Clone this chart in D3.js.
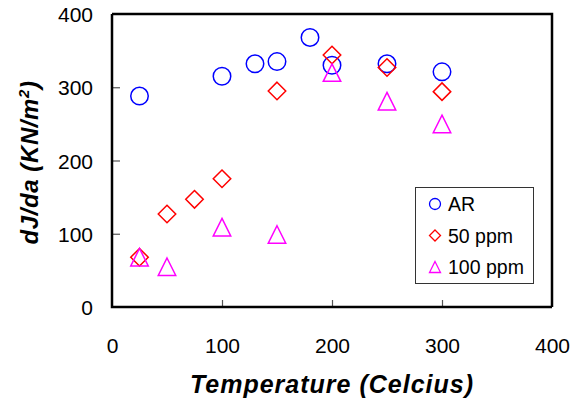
<!DOCTYPE html>
<html>
<head>
<meta charset="utf-8">
<script src="https://cdn.jsdelivr.net/npm/d3@7"></script>
<style>
  body { margin: 0; background: #fff; }
  text { font-family: Arial, "Liberation Sans", sans-serif; }
</style>
</head>
<body>
<div id="wrapper"></div>
<script>
// data
const seriesNames = ["AR", "50 ppm", "100 ppm"];
const seriesColors = ["#0000ff", "#ff0000", "#ff00ff"];
const seriesShapes = ["circle", "diamond", "triangle"];

const arTemp = [25, 100, 130, 150, 180, 200, 250, 300];
const arDJ = [288, 315, 332, 335, 368, 330, 332, 321];

const ppm50Temp = [25, 50, 75, 100, 150, 200, 250, 300];
const ppm50DJ = [68, 127, 147, 175, 295, 344, 327, 294];

const ppm100Temp = [25, 50, 100, 150, 200, 250, 300];
const ppm100DJ = [68, 55, 109, 99, 320, 281, 250];

const xTicks = [0, 100, 200, 300, 400];
const yTicks = [0, 100, 200, 300, 400];

function drawChart() {
    const series = [
        { temp: arTemp, dj: arDJ },
        { temp: ppm50Temp, dj: ppm50DJ },
        { temp: ppm100Temp, dj: ppm100DJ },
    ].map((s, i) => ({
        name: seriesNames[i],
        color: seriesColors[i],
        shape: seriesShapes[i],
        points: s.temp.map((t, j) => ({ x: t, y: s.dj[j] })),
    }));

    const xAccessor = d => d.x;
    const yAccessor = d => d.y;

    let dimensions = {
        width: 585,
        height: 405,
        margin: { top: 14, right: 33, bottom: 98, left: 112 },
    };
    dimensions.boundedWidth = dimensions.width - dimensions.margin.left - dimensions.margin.right;
    dimensions.boundedHeight = dimensions.height - dimensions.margin.top - dimensions.margin.bottom;

    const wrapper = d3.select("#wrapper")
        .append("svg")
        .attr("width", dimensions.width)
        .attr("height", dimensions.height);

    const bounds = wrapper.append("g")
        .attr("transform", `translate(${dimensions.margin.left},${dimensions.margin.top})`);

    const xScale = d3.scaleLinear()
        .domain([0, 400])
        .range([0, dimensions.boundedWidth]);

    const yScale = d3.scaleLinear()
        .domain([0, 400])
        .range([dimensions.boundedHeight, 0]);

    // marker outlines, centred on 0,0
    const markerPath = (shape, s) => {
        const h = s / 2;
        if (shape === "diamond") return `M0,${-h}L${h},0L0,${h}L${-h},0Z`;
        if (shape === "triangle") return `M0,${-h}L${h},${h}L${-h},${h}Z`;
        return `M${h},0A${h},${h} 0 1,1 ${-h},0A${h},${h} 0 1,1 ${h},0Z`;
    };

    // plot frame (top + right)
    bounds.append("path")
        .attr("d", `M0,0H${dimensions.boundedWidth}V${dimensions.boundedHeight}`)
        .attr("fill", "none")
        .attr("stroke", "#000")
        .attr("stroke-width", 2.5);

    // axes
    const xAxisGenerator = d3.axisBottom(xScale)
        .tickValues(xTicks)
        .tickSize(-7)
        .tickPadding(0)
        .tickFormat(d3.format("d"));

    const xAxis = bounds.append("g")
        .attr("transform", `translate(0,${dimensions.boundedHeight})`)
        .call(xAxisGenerator);

    xAxis.select(".domain").remove();
    xAxis.selectAll(".tick line").attr("stroke", "#555").attr("stroke-width", 1.2);
    xAxis.selectAll(".tick text")
        .attr("y", 46)
        .attr("dy", 0)
        .attr("fill", "#000")
        .style("font-size", "21px");
    xAxis.selectAll(".tick")
        .filter(d => d === 0 || d === 400)
        .select("line").remove();

    const yAxisGenerator = d3.axisLeft(yScale)
        .tickValues(yTicks)
        .tickSize(-8)
        .tickFormat(d3.format("d"));

    const yAxis = bounds.append("g")
        .call(yAxisGenerator);

    yAxis.select(".domain").remove();
    yAxis.selectAll(".tick line").attr("stroke", "#555").attr("stroke-width", 1.2);
    yAxis.selectAll(".tick text")
        .attr("x", -19)
        .attr("dy", "0.36em")
        .attr("fill", "#000")
        .style("font-size", "21px");
    yAxis.selectAll(".tick")
        .filter(d => d === 0 || d === 400)
        .select("line").remove();

    // left and bottom axis lines
    bounds.append("path")
        .attr("d", `M0,0V${dimensions.boundedHeight}H${dimensions.boundedWidth}`)
        .attr("fill", "none")
        .attr("stroke", "#000")
        .attr("stroke-width", 2.5);

    // draw data
    series.forEach(s => {
        bounds.append("g")
            .selectAll("path")
            .data(s.points)
            .join("path")
            .attr("transform", d => `translate(${xScale(xAccessor(d))},${yScale(yAccessor(d))})`)
            .attr("d", markerPath(s.shape, 17.5))
            .attr("fill", "none")
            .attr("stroke", s.color)
            .attr("stroke-width", 1.5);
    });

    // legend
    const legend = wrapper.append("g")
        .attr("transform", "translate(415,187)");

    legend.append("rect")
        .attr("x", 0.5)
        .attr("y", 0.5)
        .attr("width", 118)
        .attr("height", 96)
        .attr("fill", "#fff")
        .attr("stroke", "#333")
        .attr("stroke-width", 1);

    const legendItems = legend.selectAll(".item")
        .data(series)
        .join("g")
        .attr("class", "item")
        .attr("transform", (d, i) => `translate(20,${17 + i * 31.5})`);

    legendItems.append("path")
        .attr("d", d => markerPath(d.shape, 11))
        .attr("fill", "none")
        .attr("stroke", d => d.color)
        .attr("stroke-width", 1.3);

    legendItems.append("text")
        .attr("x", 13)
        .attr("dy", "0.36em")
        .attr("fill", "#000")
        .style("font-size", "19.5px")
        .text(d => d.name);

    // axis titles
    wrapper.append("text")
        .attr("x", dimensions.margin.left + dimensions.boundedWidth / 2)
        .attr("y", 393)
        .attr("text-anchor", "middle")
        .style("font-size", "25px")
        .style("font-weight", "bold")
        .style("font-style", "italic")
        .style("letter-spacing", "1px")
        .text("Temperature (Celcius)");

    const yTitle = wrapper.append("text")
        .attr("transform", `translate(38,${dimensions.margin.top + dimensions.boundedHeight / 2 + 2}) rotate(-90)`)
        .attr("text-anchor", "middle")
        .style("font-size", "24px")
        .style("font-weight", "bold")
        .style("font-style", "italic")
        .style("letter-spacing", "0.6px");

    yTitle.append("tspan").text("dJ/da (KN/m");
    yTitle.append("tspan")
        .attr("dy", -9)
        .style("font-size", "15px")
        .text("2");
    yTitle.append("tspan")
        .attr("dy", 9)
        .text(")");
}

drawChart();
</script>
</body>
</html>
